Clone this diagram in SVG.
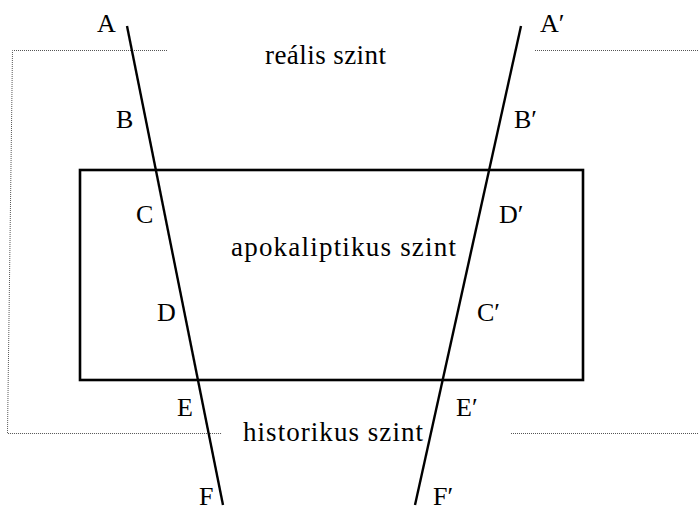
<svg xmlns="http://www.w3.org/2000/svg" width="698" height="511" viewBox="0 0 698 511">
<style>
text{font-family:"Liberation Serif","Times New Roman",serif;fill:#000}
.lvl{font-size:27px}
.lbl{font-size:26px}
.dot{fill:none;stroke:#555;stroke-width:1;stroke-dasharray:1 1}
.ln{stroke:#000;stroke-width:2.4;fill:none}
</style>
<rect width="698" height="511" fill="#fff"/>
<g id="boundary">
<path class="dot" d="M167,50.5 H12.5 L7.5,433.5 H222"/>
<path class="dot" d="M535,50.5 H698"/>
<path class="dot" d="M511,433.5 H698"/>
</g>
<g id="realis">
<text class="lvl" x="265" y="64" textLength="121" lengthAdjust="spacing">reális szint</text>
</g>
<g id="apokaliptikus">
<rect x="80" y="170" width="503" height="210" fill="none" stroke="#000" stroke-width="2.6"/>
<text class="lvl" x="231" y="256" textLength="225" lengthAdjust="spacing">apokaliptikus szint</text>
</g>
<g id="historikus">
<text class="lvl" x="243" y="441" textLength="180" lengthAdjust="spacing">historikus szint</text>
</g>
<g id="connectors">
<line class="ln" x1="127" y1="26" x2="223" y2="505"/>
<line class="ln" x1="521" y1="26" x2="415" y2="505"/>
</g>
<g id="labels">
<text class="lbl" x="97" y="32">A</text>
<text class="lbl" x="540" y="32">A′</text>
<text class="lbl" x="116" y="128">B</text>
<text class="lbl" x="514" y="128">B′</text>
<text class="lbl" x="136" y="223">C</text>
<text class="lbl" x="499" y="223">D′</text>
<text class="lbl" x="157" y="321">D</text>
<text class="lbl" x="477" y="321">C′</text>
<text class="lbl" x="177" y="416">E</text>
<text class="lbl" x="456" y="416">E′</text>
<text class="lbl" x="199" y="505">F</text>
<text class="lbl" x="433" y="505">F′</text>
</g>
</svg>
